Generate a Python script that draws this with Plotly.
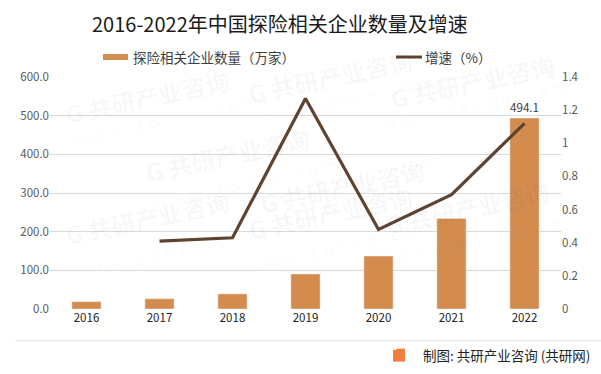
import plotly.graph_objects as go

years = ["2016", "2017", "2018", "2019", "2020", "2021", "2022"]
companies = [19.0, 26.5, 39.0, 90.5, 137.0, 234.0, 494.1]
growth = [None, 0.41, 0.43, 1.27, 0.48, 0.69, 1.12]
left_ticks = [0, 100, 200, 300, 400, 500, 600]
right_ticks = [0, 0.2, 0.4, 0.6, 0.8, 1.0, 1.2, 1.4]
right_labels = ["0", "0.2", "0.4", "0.6", "0.8", "1", "1.2", "1.4"]
bar_name = "探险相关企业数量（万家）"
line_name = "增速（%）"

FONT = "Noto Sans CJK SC, Noto Sans, sans-serif"
BAR = "#D48C4E"
LINE = "#5E4330"

# plot area in pixels
L, R, T, B = 50, 561, 77, 309.3
PW, PH = R - L, B - T


def px(x):
    return (x - L) / PW


def py(y):
    return (B - y) / PH


fig = go.Figure()
fig.add_trace(go.Bar(
    x=years, y=companies, name=bar_name,
    marker_color=BAR, width=0.4, yaxis="y",
    text=[""] * 6 + [f"{companies[-1]:.1f}"], textposition="outside",
    textfont=dict(size=12, color="#404040", family=FONT), cliponaxis=False,
))
fig.add_trace(go.Scatter(
    x=years, y=growth, name=line_name, mode="lines",
    line=dict(color=LINE, width=3.2), yaxis="y2",
))

# faint watermarks
wm = []
for (x, y) in [(60, 60), (330, 40), (560, 45), (140, 155), (430, 150), (60, 255), (330, 250), (555, 245)]:
    wm.append(dict(text="<b>G 共研产业咨询</b>", x=px(x), y=py(y), xref="paper", yref="paper",
                   showarrow=False, textangle=-12, font=dict(size=24, color="rgba(0,0,0,0.035)", family=FONT)))
    wm.append(dict(text="w  w  w  .  g  o  n  y  n  .  c  o  m", x=px(x + 10), y=py(y + 28), xref="paper", yref="paper",
                   showarrow=False, textangle=-12, font=dict(size=14, color="rgba(0,0,0,0.035)", family=FONT)))

fig.update_layout(
    width=601, height=374,
    margin=dict(l=L, r=601 - R, t=T, b=374 - B, autoexpand=False),
    paper_bgcolor="white", plot_bgcolor="white",
    font=dict(family=FONT, color="#595959", size=12),
    showlegend=False,
    xaxis=dict(showgrid=False, showline=False, ticks="", tickfont=dict(size=11.5, color="#222222")),
    yaxis=dict(range=[0, 600], tickvals=left_ticks, tickformat=".1f", showgrid=True,
               gridcolor="#D9D9D9", gridwidth=1, zeroline=False, ticks="",
               tickfont=dict(size=11.5, color="#595959")),
    yaxis2=dict(range=[0, 1.4], tickvals=right_ticks, ticktext=right_labels, overlaying="y",
                side="right", showgrid=False, zeroline=False, ticks="",
                tickfont=dict(size=11.5, color="#595959")),
    annotations=wm + [
        dict(text="2016-2022年中国探险相关企业数量及增速", x=px(280), y=py(23), xref="paper", yref="paper",
             xanchor="center", yanchor="middle", showarrow=False,
             font=dict(size=20, color="#1a1a1a", family=FONT)),
        dict(text=bar_name, x=px(131), y=py(57), xref="paper", yref="paper",
             xanchor="left", yanchor="middle", showarrow=False,
             font=dict(size=13.5, color="#404040", family=FONT)),
        dict(text=line_name, x=px(423), y=py(57), xref="paper", yref="paper",
             xanchor="left", yanchor="middle", showarrow=False,
             font=dict(size=13.5, color="#404040", family=FONT)),
        dict(text="制图: 共研产业咨询 (共研网)", x=px(592), y=py(355.5), xref="paper", yref="paper",
             xanchor="right", yanchor="middle", showarrow=False,
             font=dict(size=13.5, color="#222222", family=FONT)),
        dict(text="<b>G</b>", xref="paper", yref="paper", x=px(399), y=py(355.5),
             showarrow=False, font=dict(size=10, color="white", family=FONT)),
    ],
    shapes=[
        dict(type="rect", xref="paper", yref="paper", x0=px(103), x1=px(128),
             y0=py(60), y1=py(54), fillcolor=BAR, line=dict(width=0)),
        dict(type="line", xref="paper", yref="paper", x0=px(396), x1=px(422),
             y0=py(57), y1=py(57), line=dict(color=LINE, width=3)),
        dict(type="line", xref="paper", yref="paper", x0=px(15), x1=px(601),
             y0=py(341), y1=py(341), line=dict(color="#E3E3E3", width=1)),
        dict(type="rect", xref="paper", yref="paper", x0=px(393), x1=px(405),
             y0=py(362), y1=py(349), fillcolor="#F07F3C", line=dict(width=0), layer="below"),
    ],
)

fig.write_html("out.html", config={"displayModeBar": False},
               post_script="document.body.style.margin='0';document.body.style.overflow='hidden';")
